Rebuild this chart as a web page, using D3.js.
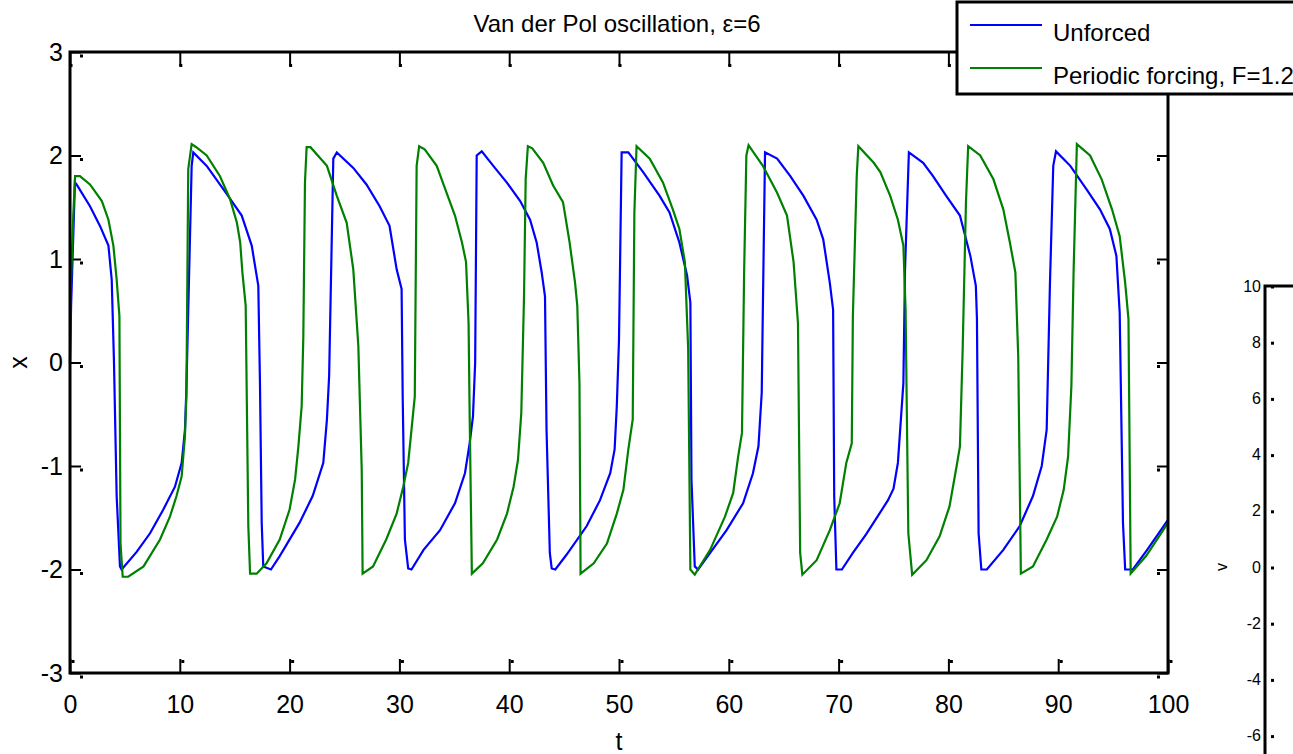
<!DOCTYPE html>
<html>
<head>
<meta charset="utf-8">
<script src="https://cdn.jsdelivr.net/npm/d3@7"></script>
<style>
  body { margin: 0; background: #fff; }
  svg { display: block; }
  text { font-family: "Liberation Sans", Arial, sans-serif; fill: #000; }
</style>
</head>
<body>
<div id="chart"></div>
<script>
const width = 1293;
const height = 754;

// unforced van der Pol
const tUnforced = [0, 0.1, 0.45, 0.6, 1.82, 2.73, 3.5, 3.8, 4.0, 4.25, 4.55, 4.7, 6.07, 7.29, 8.5, 9.56, 10.17, 10.47, 10.6, 11.08, 11.23,
  12.45, 14.27, 15.64, 16.55, 17.15, 17.3, 17.46, 17.6, 18.3, 19.1, 20.9, 22.1, 23.07, 23.4, 23.6, 23.98, 24.3,
  25.8, 27.0, 28.2, 29.1, 29.75, 30.2, 30.3, 30.5, 30.8, 31.1, 32.2, 33.7, 35.06, 35.97, 36.4, 36.7, 36.9, 37.04, 37.5,
  38.55, 39.77, 41.0, 41.9, 42.5, 42.96, 43.26, 43.4, 43.7, 43.87, 44.2, 45.2, 47.06, 48.27, 49.2, 49.6, 49.8, 50.0, 50.24, 50.85,
  52.2, 53.7, 54.6, 55.5, 56.2, 56.5, 56.6, 56.9, 57.2, 58.3, 59.8, 61.3, 62.2, 62.7, 63.0, 63.1, 63.3,
  64.4, 65.6, 66.8, 68.0, 68.6, 69.2, 69.5, 69.6, 69.8, 70.3, 71.3, 72.5, 73.6, 74.5, 75.0, 75.4, 75.9, 76.05, 76.4,
  77.7, 78.6, 79.8, 81.05, 82.0, 82.5, 82.6, 82.75, 83.0, 83.5, 85.0, 86.5, 87.7, 88.5, 88.95, 89.25, 89.55, 89.8,
  91.1, 92.6, 93.8, 94.7, 95.3, 95.6, 95.9, 96.1, 96.8, 98.1, 100];
const xUnforced = [0, 0.55, 1.74, 1.72, 1.51, 1.32, 1.13, 0.80, 0.03, -1.29, -1.97, -2.0, -1.83, -1.65, -1.42, -1.20, -0.97, -0.65, -0.26, 1.90, 2.03,
  1.90, 1.63, 1.42, 1.13, 0.74, -0.19, -1.55, -1.97, -2.0, -1.87, -1.55, -1.29, -0.97, -0.55, -0.13, 1.97, 2.03,
  1.88, 1.72, 1.51, 1.32, 0.90, 0.71, -0.33, -1.71, -1.99, -2.0, -1.81, -1.62, -1.36, -1.07, -0.78, -0.52, 0, 2.0, 2.04,
  1.90, 1.74, 1.56, 1.38, 1.16, 0.87, 0.64, -0.65, -1.84, -1.99, -2.0, -1.86, -1.58, -1.33, -1.07, -0.84, -0.42, 0.22, 2.03, 2.03,
  1.84, 1.61, 1.45, 1.16, 0.84, 0.58, -1.13, -1.97, -2.0, -1.84, -1.62, -1.36, -1.07, -0.81, -0.29, 0.51, 2.03,
  1.97, 1.80, 1.61, 1.38, 1.19, 0.77, 0.51, -1.29, -2.0, -2.0, -1.84, -1.66, -1.48, -1.33, -1.22, -0.97, -0.20, 0.90, 2.03,
  1.93, 1.80, 1.61, 1.42, 1.03, 0.74, 0.42, -1.65, -2.0, -2.0, -1.81, -1.58, -1.29, -1.00, -0.65, 0.77, 1.90, 2.04,
  1.90, 1.67, 1.48, 1.29, 1.03, 0.48, -1.55, -2.0, -2.0, -1.81, -1.52];

// periodic forcing F=1.2
const tForced = [0, 0.05, 0.3, 0.46, 0.9, 1.82, 2.9, 3.5, 3.95, 4.25, 4.5, 4.6, 4.8, 5.3, 6.7, 8.2, 9.1, 9.7, 10.17, 10.47, 10.6, 10.77, 11.08, 11.5,
  12.45, 13.66, 14.57, 15.2, 15.5, 15.7, 16.0, 16.24, 16.4, 17.0, 17.9, 19.1, 20.0, 20.5, 20.8, 21.1, 21.25, 21.4, 21.55, 21.9,
  23.4, 24.3, 25.2, 25.8, 26.26, 26.57, 26.65, 27.6, 28.8, 29.75, 30.35, 30.8, 31.1, 31.4, 31.57, 31.8, 32.3,
  33.4, 34.3, 35.06, 35.7, 36.07, 36.3, 36.4, 36.6, 37.6, 38.9, 39.8, 40.4, 40.8, 41.1, 41.35, 41.5, 41.7, 42.1,
  43.1, 44.0, 44.9, 45.5, 46.0, 46.2, 46.4, 46.5, 47.7, 48.9, 49.8, 50.4, 50.85, 51.25, 51.4, 51.6,
  52.8, 54.0, 54.9, 55.5, 56.0, 56.3, 56.5, 56.9, 58.3, 59.65, 60.4, 60.85, 61.2, 61.4, 61.6, 61.8,
  63.1, 64.4, 65.3, 65.9, 66.3, 66.5, 66.7, 68.0, 69.2, 70.1, 70.7, 71.2, 71.3, 71.65, 71.8,
  73.2, 73.8, 74.7, 75.4, 75.9, 76.1, 76.35, 76.7, 78.0, 79.2, 80.1, 80.75, 81.05, 81.3, 81.6, 81.8,
  82.9, 84.1, 85.0, 85.6, 86.1, 86.36, 86.6, 87.7, 88.95, 89.9, 90.5, 90.9, 91.2, 91.4, 91.7,
  92.9, 93.96, 94.9, 95.6, 96.1, 96.4, 96.6, 98.0, 100];
const xForced = [0, 0.67, 1.42, 1.80, 1.80, 1.72, 1.56, 1.38, 1.13, 0.80, 0.45, -1.75, -2.07, -2.07, -1.97, -1.71, -1.49, -1.29, -1.10, -0.71, -0.33, 1.87, 2.11, 2.08,
  2.0, 1.80, 1.58, 1.35, 1.16, 0.87, 0.55, -1.58, -2.04, -2.04, -1.94, -1.71, -1.42, -1.13, -0.81, -0.42, 0.25, 1.74, 2.08, 2.08,
  1.90, 1.61, 1.35, 0.90, 0.16, -1.04, -2.04, -1.97, -1.71, -1.46, -1.20, -0.97, -0.65, -0.33, 1.90, 2.09, 2.06,
  1.90, 1.64, 1.42, 1.16, 0.97, 0.38, -0.52, -2.04, -1.94, -1.71, -1.46, -1.20, -0.94, -0.49, 0.64, 1.77, 2.09, 2.07,
  1.93, 1.71, 1.55, 1.16, 0.77, 0.55, -0.20, -2.04, -1.94, -1.75, -1.46, -1.23, -0.84, -0.55, 1.45, 2.09,
  1.97, 1.74, 1.48, 1.29, 0.97, 0.13, -2.0, -2.05, -1.81, -1.49, -1.26, -0.91, -0.68, 0.90, 2.0, 2.10,
  1.90, 1.64, 1.42, 0.97, 0.38, -1.84, -2.05, -1.91, -1.62, -1.36, -0.97, -0.78, 0.45, 1.80, 2.09,
  1.93, 1.84, 1.61, 1.38, 1.13, 0.51, -1.65, -2.05, -1.91, -1.68, -1.39, -1.00, -0.81, 0.13, 1.55, 2.09,
  2.0, 1.77, 1.48, 1.16, 0.87, 0.06, -2.04, -1.97, -1.71, -1.49, -1.23, -0.91, -0.23, 0.87, 2.11,
  2.0, 1.77, 1.48, 1.22, 0.77, 0.42, -2.04, -1.87, -1.55];

const tTicks = [0, 10, 20, 30, 40, 50, 60, 70, 80, 90, 100];
const xTicks = [-3, -2, -1, 0, 1, 2, 3];
const vTicks = [10, 8, 6, 4, 2, 0, -2, -4, -6];
const seriesNames = ['Unforced', 'Periodic forcing, F=1.2'];
const seriesColors = ['#0000ff', '#008000'];

const tickDot = 3;
const plainNumber = d => String(d);

const svg = d3.select('#chart')
  .append('svg')
  .attr('width', width)
  .attr('height', height);

const margin = {left: 70, right: 1168, top: 52, bottom: 673};

const xScale = d3.scaleLinear().domain([0, 100]).range([margin.left, margin.right]);
const yScale = d3.scaleLinear().domain([-3, 3]).range([margin.bottom, margin.top]);

/* second (cut off) axes on the right: v */
const vScale = d3.scaleLinear().domain([-10, 10]).range([848, 286]);
const vAxis = svg.append('g')
  .attr('transform', 'translate(1265,0)')
  .call(d3.axisLeft(vScale).tickValues(vTicks).tickSize(0).tickPadding(4).tickFormat(plainNumber));
vAxis.select('.domain').remove();
vAxis.selectAll('text')
  .style('font-family', '"Liberation Sans", Arial, sans-serif')
  .style('font-size', '16px')
  .attr('fill', '#000');
vAxis.selectAll('.tick')
  .append('rect')
  .attr('x', 6).attr('y', -1)
  .attr('width', tickDot).attr('height', tickDot)
  .attr('fill', '#000');
svg.append('path')
  .attr('d', `M1265,${height}V286H${width}`)
  .attr('fill', 'none')
  .attr('stroke', '#000')
  .attr('stroke-width', 3);
svg.append('text')
  .attr('transform', 'translate(1227,567) rotate(-90)')
  .attr('text-anchor', 'middle')
  .style('font-size', '16px')
  .text('v');

/* main axes */
const bottomAxis = svg.append('g')
  .attr('transform', `translate(0,${margin.bottom})`)
  .call(d3.axisBottom(xScale).tickValues(tTicks).tickSizeInner(-14).tickSizeOuter(0).tickPadding(22).tickFormat(plainNumber));
const topAxis = svg.append('g')
  .attr('transform', `translate(0,${margin.top})`)
  .call(d3.axisTop(xScale).tickValues(tTicks).tickSizeInner(-14).tickSizeOuter(0).tickFormat(''));
const leftAxis = svg.append('g')
  .attr('transform', `translate(${margin.left},0)`)
  .call(d3.axisLeft(yScale).tickValues(xTicks).tickSizeInner(-11).tickSizeOuter(0).tickPadding(7).tickFormat(plainNumber));
const rightAxis = svg.append('g')
  .attr('transform', `translate(${margin.right},0)`)
  .call(d3.axisRight(yScale).tickValues(xTicks).tickSizeInner(-11).tickSizeOuter(0).tickFormat(''));

[bottomAxis, topAxis, leftAxis, rightAxis].forEach(ax => {
  ax.select('.domain').remove();
  ax.selectAll('line').attr('stroke', '#000').attr('stroke-width', 2);
  ax.selectAll('text')
    .style('font-family', '"Liberation Sans", Arial, sans-serif')
    .style('font-size', '25px')
    .attr('fill', '#000');
});

// little dots next to tick ends
bottomAxis.selectAll('.tick').append('rect')
  .attr('x', 1).attr('y', -13).attr('width', tickDot).attr('height', tickDot).attr('fill', '#000');
topAxis.selectAll('.tick').append('rect')
  .attr('x', -1).attr('y', 12).attr('width', tickDot).attr('height', tickDot).attr('fill', '#000');
leftAxis.selectAll('.tick').append('rect')
  .attr('x', 10).attr('y', 2).attr('width', tickDot).attr('height', tickDot).attr('fill', '#000');
rightAxis.selectAll('.tick').append('rect')
  .attr('x', -11).attr('y', 2).attr('width', tickDot).attr('height', tickDot).attr('fill', '#000');

const line = d3.line()
  .x(d => xScale(d[0]))
  .y(d => yScale(d[1]));

const series = [
  d3.zip(tUnforced, xUnforced),
  d3.zip(tForced, xForced)
];

svg.append('g')
  .selectAll('path')
  .data(series)
  .join('path')
  .attr('fill', 'none')
  .attr('stroke', (d, i) => seriesColors[i])
  .attr('stroke-width', 2.2)
  .attr('d', line);

svg.append('rect')
  .attr('x', margin.left)
  .attr('y', margin.top)
  .attr('width', margin.right - margin.left)
  .attr('height', margin.bottom - margin.top)
  .attr('fill', 'none')
  .attr('stroke', '#000')
  .attr('stroke-width', 3);

svg.append('text')
  .attr('x', 617)
  .attr('y', 32)
  .attr('text-anchor', 'middle')
  .style('font-size', '24px')
  .text('Van der Pol oscillation, \u03b5=6');

svg.append('text')
  .attr('x', (margin.left + margin.right) / 2)
  .attr('y', 750)
  .attr('text-anchor', 'middle')
  .style('font-size', '25px')
  .text('t');

svg.append('text')
  .attr('transform', `translate(27,${yScale(0)}) rotate(-90)`)
  .attr('text-anchor', 'middle')
  .style('font-size', '25px')
  .text('x');

/* legend */
const legend = svg.append('g');
legend.append('rect')
  .attr('x', 957).attr('y', 2)
  .attr('width', 400).attr('height', 92)
  .attr('fill', '#fff')
  .attr('stroke', '#000')
  .attr('stroke-width', 3);
const legendY = [25, 68];
seriesNames.forEach((name, i) => {
  legend.append('line')
    .attr('x1', 970).attr('x2', 1042)
    .attr('y1', legendY[i]).attr('y2', legendY[i])
    .attr('stroke', seriesColors[i])
    .attr('stroke-width', 2.2);
  legend.append('text')
    .attr('x', 1053)
    .attr('y', legendY[i] + 16)
    .style('font-size', '24px')
    .text(name);
});
</script>
</body>
</html>
